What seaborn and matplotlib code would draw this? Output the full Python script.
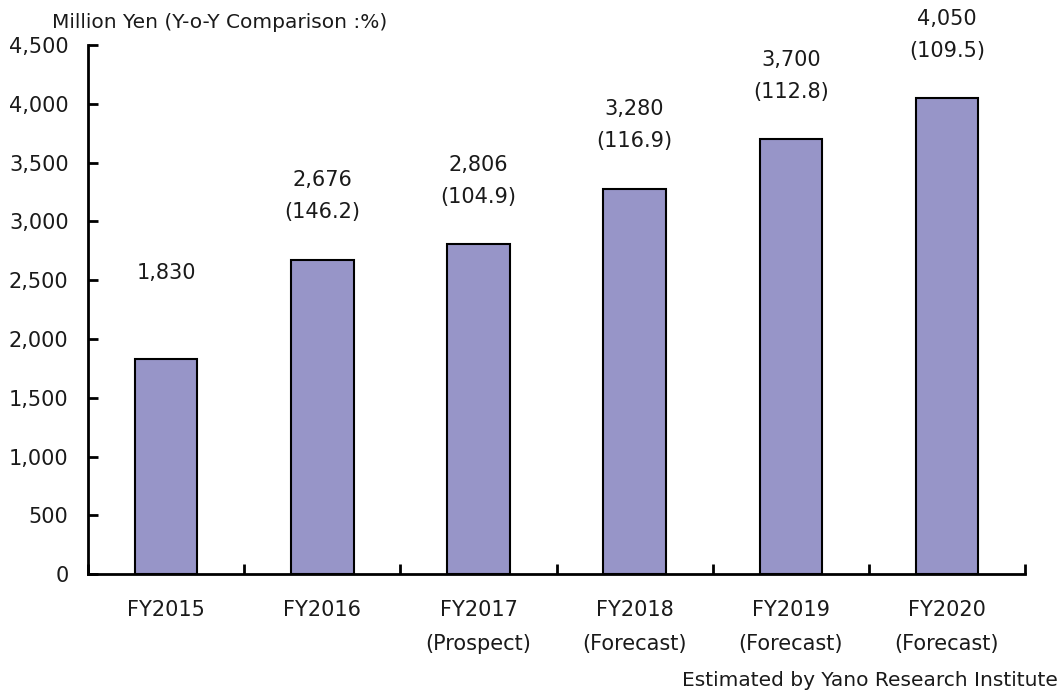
import matplotlib
matplotlib.use("Agg")
import matplotlib.pyplot as plt
import seaborn as sns
import pandas as pd
import numpy as np

categories = ["FY2015", "FY2016", "FY2017\n(Prospect)", "FY2018\n(Forecast)",
              "FY2019\n(Forecast)", "FY2020\n(Forecast)"]
values = [1830, 2676, 2806, 3280, 3700, 4050]
yoy = [None, 146.2, 104.9, 116.9, 112.8, 109.5]
yticks = [0, 500, 1000, 1500, 2000, 2500, 3000, 3500, 4000, 4500]

sns.set_theme(style="white")
plt.rcParams['font.family'] = ['DejaVu Sans']
FS = 15
TC = "#1a1a1a"

df = pd.DataFrame({"cat": categories, "val": values})

fig = plt.figure(figsize=(10.63, 6.95), dpi=100)
ax = fig.add_axes([0.0828, 0.174, 0.8815, 0.761])

sns.barplot(data=df, x="cat", y="val", color="#9795C8", saturation=1,
            width=0.4, edgecolor="black", linewidth=1.5, ax=ax)

ax.set_xlim(-0.5, len(categories) - 0.5)
ax.set_ylim(0, 4500)
ax.set_yticks(yticks)
ax.set_yticklabels([f"{v:,}" for v in yticks], fontsize=FS, color=TC)
ax.set_xticks(range(len(categories)))
ax.set_xticklabels(categories, fontsize=FS, color=TC, linespacing=1.85)
ax.set_xlabel("")
ax.set_ylabel("")
ax.set_xticks(np.arange(-0.5, len(categories), 1.0), minor=True)
ax.tick_params(axis="x", which="major", bottom=True, length=0, pad=19)
ax.tick_params(axis="x", which="minor", bottom=True, direction="in", length=7, width=2, color="black")
ax.tick_params(axis="y", which="major", left=True, direction="in", length=7, width=2,
               color="black", pad=14)

for s in ["top", "right"]:
    ax.spines[s].set_visible(False)
for s in ["left", "bottom"]:
    ax.spines[s].set_color("black")
    ax.spines[s].set_linewidth(2)

for i, (v, r) in enumerate(zip(values, yoy)):
    if r is None:
        ax.annotate(f"{v:,}", (i, v), xytext=(0, 62), textcoords="offset points",
                    ha="center", va="center", fontsize=FS, color=TC)
    else:
        ax.annotate(f"({r:.1f})", (i, v), xytext=(0, 34), textcoords="offset points",
                    ha="center", va="center", fontsize=FS, color=TC)
        ax.annotate(f"{v:,}", (i, v), xytext=(0, 57), textcoords="offset points",
                    ha="center", va="center", fontsize=FS, color=TC)

fig.text(52 / 1063, 1 - 22 / 695, "Million Yen (Y-o-Y Comparison :%)", fontsize=14.5,
         ha="left", va="center", color=TC)
fig.text(1058 / 1063, 1 - 680 / 695, "Estimated by Yano Research Institute", fontsize=14.5,
         ha="right", va="center", color=TC)

fig.savefig("out.png", dpi=100)
